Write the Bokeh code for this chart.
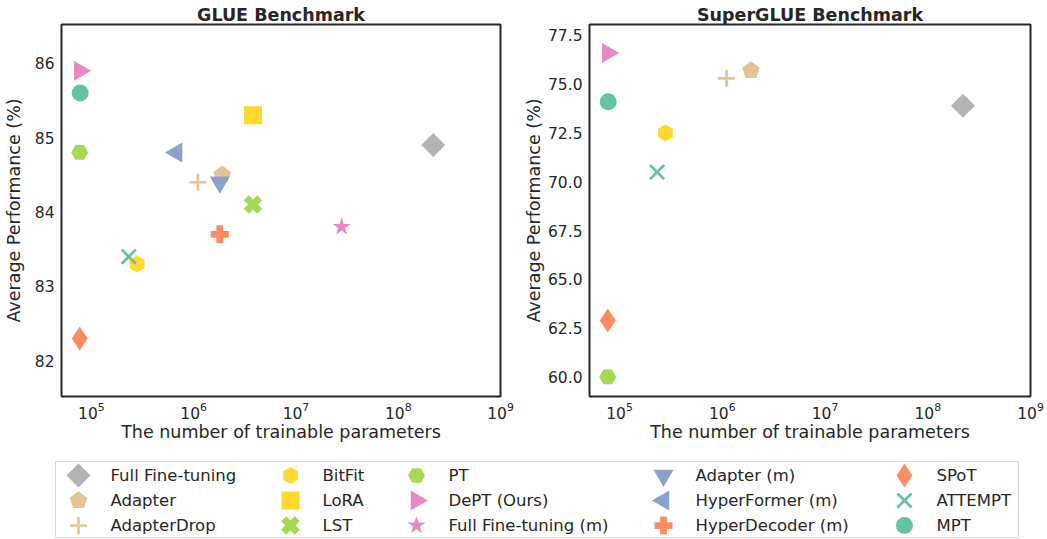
import numpy as np
from bokeh.plotting import figure
from bokeh.models import Range1d, FixedTicker, PrintfTickFormatter
from bokeh.layouts import column, row
from bokeh.embed import file_html
from bokeh.resources import INLINE
from bokeh.core.properties import value

# ---------------- data ----------------
methods = ["Full Fine-tuning", "Adapter", "AdapterDrop", "BitFit", "LoRA", "LST",
           "PT", "DePT (Ours)", "Full Fine-tuning (m)", "Adapter (m)", "HyperFormer (m)",
           "HyperDecoder (m)", "SPoT", "ATTEMPT", "MPT"]
params = [2.2e8, 1.9e6, 1.1e6, 2.8e5, 3.8e6, 3.8e6,
          7.68e4, 7.68e4, 2.8e7, 1.8e6, 6.8e5,
          1.8e6, 7.68e4, 2.32e5, 7.76e4]
glue_scores = [84.9, 84.5, 84.4, 83.3, 85.3, 84.1,
               84.8, 85.9, 83.8, 84.4, 84.8,
               83.7, 82.3, 83.4, 85.6]

sg_methods = ["Full Fine-tuning", "Adapter", "AdapterDrop", "BitFit", "PT",
              "DePT (Ours)", "SPoT", "ATTEMPT", "MPT"]
sg_scores = [73.9, 75.7, 75.3, 72.5, 60.0, 76.6, 62.9, 70.5, 74.1]

glue_yticks = [82, 83, 84, 85, 86]
sg_yticks = [60.0, 62.5, 65.0, 67.5, 70.0, 72.5, 75.0, 77.5]
x_ticks = [1e5, 1e6, 1e7, 1e8, 1e9]

# ---------------- style ----------------
TEAL, ORANGE, BLUE, PINK = "#66c2a5", "#fc8d62", "#8da0cb", "#e78ac3"
GREEN, YELLOW, TAN, GRAY = "#a6d854", "#ffd92f", "#e5c494", "#b3b3b3"
STYLE = {
    "Full Fine-tuning": dict(marker="square", color=GRAY, size=17, angle=np.pi / 4),
    "Adapter": dict(marker="pentagon", color=TAN, size=9.2, angle=0.0),
    "AdapterDrop": dict(marker="cross", color=TAN, size=17, angle=0.0),
    "BitFit": dict(marker="hex", color=YELLOW, size=17, angle=np.pi / 2),
    "LoRA": dict(marker="square", color=YELLOW, size=18, angle=0.0),
    "LST": dict(marker="plus", color=GREEN, size=19, angle=np.pi / 4),
    "PT": dict(marker="hex", color=GREEN, size=17, angle=0.0),
    "DePT (Ours)": dict(marker="triangle", color=PINK, size=20, angle=-np.pi / 2),
    "Full Fine-tuning (m)": dict(marker="star", color=PINK, size=19, angle=0.0),
    "Adapter (m)": dict(marker="inverted_triangle", color=BLUE, size=20, angle=0.0),
    "HyperFormer (m)": dict(marker="triangle", color=BLUE, size=20, angle=np.pi / 2),
    "HyperDecoder (m)": dict(marker="plus", color=ORANGE, size=18, angle=0.0),
    "SPoT": dict(marker="diamond", color=ORANGE, size=24, angle=0.0),
    "ATTEMPT": dict(marker="x", color=TEAL, size=20, angle=0.0),
    "MPT": dict(marker="circle", color=TEAL, size=17, angle=0.0),
}

FONT = "DejaVu Sans"
DARK = "#262626"


def draw(p, name, xs, ys):
    st = STYLE[name]
    m = st["marker"]
    if m == "pentagon":
        try:
            p.ngon(x=xs, y=ys, radius=st["size"], radius_units="screen", n=5,
                   angle=st["angle"], fill_color=st["color"], line_color=None)
            return
        except Exception:
            m = "hex"
            st = dict(st, size=17, angle=np.pi / 2)
    if m in ("cross", "x"):
        p.scatter(x=xs, y=ys, marker=m, size=st["size"], angle=st["angle"],
                  line_color=st["color"], line_width=2.7)
    else:
        p.scatter(x=xs, y=ys, marker=m, size=st["size"], angle=st["angle"],
                  fill_color=st["color"], line_color=None)


def make_panel(title, names, xs, ys, yr, yticks, fmt, width, bl, br, ylab_standoff):
    p = figure(width=width, height=452, x_axis_type="log",
               x_range=Range1d(5.1e4, 1e9), y_range=Range1d(*yr),
               output_backend="svg", toolbar_location=None, title=title,
               min_border_left=bl, min_border_right=br,
               min_border_top=24, min_border_bottom=56)
    p.title.align = "center"
    p.title.text_font = FONT
    p.title.text_font_size = "17.5px"
    p.title.text_font_style = "bold"
    p.title.text_color = DARK
    p.title.standoff = 0
    p.background_fill_color = "white"
    p.border_fill_color = "white"
    p.outline_line_color = DARK
    p.outline_line_width = 2
    p.xgrid.visible = False
    p.ygrid.visible = False
    for ax in (p.xaxis[0], p.yaxis[0]):
        ax.axis_line_color = None
        ax.major_tick_line_color = None
        ax.minor_tick_line_color = None
        ax.major_tick_in = 0
        ax.major_tick_out = 0
        ax.minor_tick_in = 0
        ax.minor_tick_out = 0
        ax.major_label_text_font = FONT
        ax.major_label_text_font_size = "15.5px"
        ax.major_label_text_color = DARK
        ax.axis_label_text_font = FONT
        ax.axis_label_text_font_size = "17.5px"
        ax.axis_label_text_font_style = "normal"
        ax.axis_label_text_color = DARK
    p.xaxis.ticker = FixedTicker(ticks=x_ticks)
    p.yaxis.ticker = FixedTicker(ticks=yticks)
    if fmt:
        p.yaxis.formatter = PrintfTickFormatter(format=fmt)
    p.xaxis.axis_label = "The number of trainable parameters"
    p.yaxis.axis_label = "Average Performance (%)"
    p.xaxis.major_label_standoff = 5
    p.xaxis.axis_label_standoff = 0
    p.yaxis.major_label_standoff = 7
    p.yaxis.axis_label_standoff = ylab_standoff
    for n, x, y in zip(names, xs, ys):
        draw(p, n, [x], [y])
    return p


p1 = make_panel("GLUE Benchmark", methods, params, glue_scores, (81.52, 86.52),
                glue_yticks, None, 520, 54, 20, 8)
sg_params = [params[methods.index(n)] for n in sg_methods]
p2 = make_panel("SuperGLUE Benchmark", sg_methods, sg_params, sg_scores, (59.0, 78.06),
                sg_yticks, "%.1f", 527, 68, 17, 1)

# ---------------- legend panel ----------------
leg = figure(width=1047, height=86, x_range=Range1d(0, 963), y_range=Range1d(76, 0),
             output_backend="svg", toolbar_location=None, title=None,
             x_axis_location=None, y_axis_location=None,
             min_border_left=55, min_border_right=29, min_border_top=9, min_border_bottom=1)
leg.xgrid.visible = False
leg.ygrid.visible = False
leg.outline_line_color = "#d6d6d6"
leg.outline_line_width = 1
leg_col_x = [23, 235, 361, 608, 849]
leg_row_y = [14, 39, 64]
leg_text_off = 32
lx, ly = [], []
for i, n in enumerate(methods):
    cx, cy = leg_col_x[i // 3], leg_row_y[i % 3]
    draw(leg, n, [cx], [cy])
    lx.append(cx + leg_text_off)
    ly.append(cy)
leg.text(x=lx, y=ly, text=methods, text_font=value(FONT), text_font_size="16.5px",
         text_baseline="middle", text_align="left", text_color=DARK)

layout = column(row(p1, p2), leg)
open("out.html", "w").write(file_html(layout, INLINE))
